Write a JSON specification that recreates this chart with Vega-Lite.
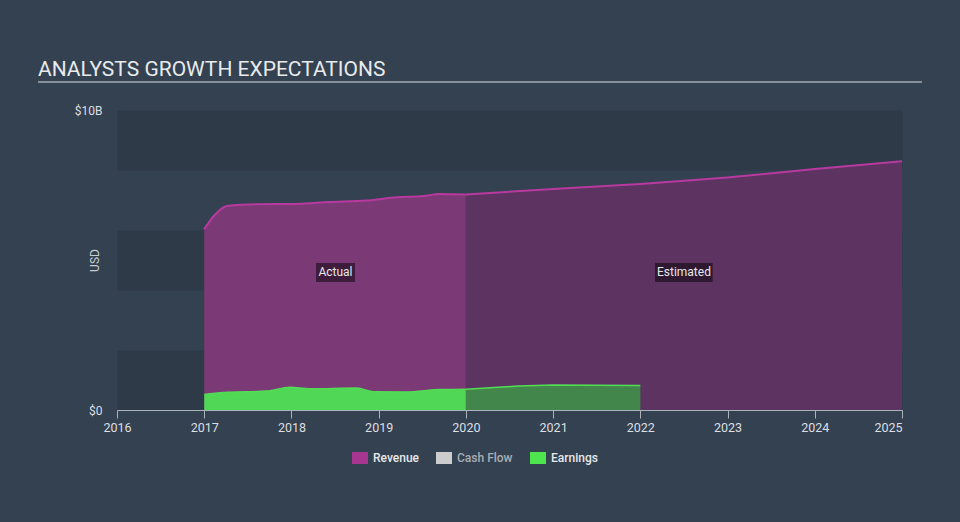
{
  "$schema": "https://vega.github.io/schema/vega-lite/v6.json",
  "width": 785,
  "height": 300,
  "autosize": {"type": "none"},
  "padding": {"left": 117, "top": 110, "right": 58, "bottom": 112},
  "background": "#344150",
  "title": {
    "text": "ANALYSTS GROWTH EXPECTATIONS",
    "anchor": "start",
    "frame": "group",
    "dx": -79,
    "offset": 1,
    "fontSize": 21,
    "font": "Roboto",
    "fontWeight": "normal",
    "color": "#e8eaec"
  },
  "config": {
    "font": "Roboto",
    "view": {"stroke": null},
    "legend": {
      "orient": "none",
      "legendX": 237,
      "legendY": 342,
      "direction": "horizontal",
      "title": null,
      "columnPadding": 17,
      "labelOffset": 7,
      "labelFontSize": 12,
      "labelFont": "Roboto",
      "labelFontWeight": 500,
      "symbolType": "M-1.33,-1H1.33V1H-1.33Z",
      "symbolSize": 144,
      "symbolStrokeWidth": 0,
      "symbolOpacity": 1
    }
  },
  "layer": [
    {
      "data": {
        "values": [
          {"series": "Revenue", "phase": "Actual", "year": 2017.00, "value": 6.03},
          {"series": "Revenue", "phase": "Actual", "year": 2017.12, "value": 6.50},
          {"series": "Revenue", "phase": "Actual", "year": 2017.26, "value": 6.80},
          {"series": "Revenue", "phase": "Actual", "year": 2017.60, "value": 6.86},
          {"series": "Revenue", "phase": "Actual", "year": 2018.06, "value": 6.87},
          {"series": "Revenue", "phase": "Actual", "year": 2018.44, "value": 6.93},
          {"series": "Revenue", "phase": "Actual", "year": 2018.86, "value": 6.98},
          {"series": "Revenue", "phase": "Actual", "year": 2019.21, "value": 7.09},
          {"series": "Revenue", "phase": "Actual", "year": 2019.51, "value": 7.13},
          {"series": "Revenue", "phase": "Actual", "year": 2019.70, "value": 7.20},
          {"series": "Revenue", "phase": "Actual", "year": 2020.00, "value": 7.18},
          {"series": "Revenue", "phase": "Estimated", "year": 2020.00, "value": 7.18},
          {"series": "Revenue", "phase": "Estimated", "year": 2021.00, "value": 7.37},
          {"series": "Revenue", "phase": "Estimated", "year": 2022.00, "value": 7.53},
          {"series": "Revenue", "phase": "Estimated", "year": 2023.00, "value": 7.75},
          {"series": "Revenue", "phase": "Estimated", "year": 2024.00, "value": 8.03},
          {"series": "Revenue", "phase": "Estimated", "year": 2025.00, "value": 8.29},
          {"series": "Earnings", "phase": "Actual", "year": 2017.00, "value": 0.52},
          {"series": "Earnings", "phase": "Actual", "year": 2017.22, "value": 0.58},
          {"series": "Earnings", "phase": "Actual", "year": 2017.72, "value": 0.63},
          {"series": "Earnings", "phase": "Actual", "year": 2017.98, "value": 0.76},
          {"series": "Earnings", "phase": "Actual", "year": 2018.21, "value": 0.71},
          {"series": "Earnings", "phase": "Actual", "year": 2018.75, "value": 0.73},
          {"series": "Earnings", "phase": "Actual", "year": 2018.94, "value": 0.61},
          {"series": "Earnings", "phase": "Actual", "year": 2019.32, "value": 0.60},
          {"series": "Earnings", "phase": "Actual", "year": 2019.70, "value": 0.68},
          {"series": "Earnings", "phase": "Actual", "year": 2020.00, "value": 0.69},
          {"series": "Earnings", "phase": "Estimated", "year": 2020.00, "value": 0.69},
          {"series": "Earnings", "phase": "Estimated", "year": 2020.60, "value": 0.80},
          {"series": "Earnings", "phase": "Estimated", "year": 2021.00, "value": 0.83},
          {"series": "Earnings", "phase": "Estimated", "year": 2022.00, "value": 0.82}
        ]
      },
      "encoding": {
        "x": {
          "field": "year",
          "type": "quantitative",
          "scale": {"domain": [2016, 2025], "nice": false, "zero": false},
          "axis": {
            "title": null,
            "values": [2016, 2017, 2018, 2019, 2020, 2021, 2022, 2023, 2024, 2025],
            "format": "d",
            "grid": false,
            "labelFlush": false,
            "labelAlign": {"condition": {"test": "datum.value == 2025", "value": "right"}, "value": "center"},
            "labelFontSize": 12.5,
            "labelColor": "#dcdfe3",
            "tickColor": "#aab2bc",
            "domainColor": "#aab2bc",
            "tickSize": 8,
            "labelPadding": 3,
            "zindex": 1
          }
        },
        "y": {
          "field": "value",
          "type": "quantitative",
          "scale": {"domain": [0, 10], "nice": false},
          "axis": {
            "title": "USD",
            "titleColor": "#c8ccd0",
            "titleFontSize": 12,
            "titleFontWeight": "normal",
            "titleX": -16,
            "titleY": 150,
            "values": [0, 1, 5, 9, 10],
            "labelExpr": "datum.value == 0 ? '$0' : (datum.value == 10 ? '$10B' : '')",
            "labelFontSize": 12,
            "labelColor": "#dcdfe3",
            "labelPadding": 15,
            "domain": false,
            "ticks": false,
            "grid": true,
            "gridWidth": 60,
            "gridOpacity": 1,
            "gridColor": {"condition": {"test": "datum.value == 0 || datum.value == 10", "value": "transparent"}, "value": "#2e3a48"}
          }
        }
      },
      "layer": [
        {
          "transform": [{"filter": "datum.series == 'Revenue' && datum.phase == 'Actual'"}],
          "mark": {"type": "area", "opacity": 1, "interpolate": "monotone", "fill": "#7b3a76", "line": {"color": "#b8399f", "strokeWidth": 2, "opacity": 1, "interpolate": "monotone"}}
        },
        {
          "transform": [{"filter": "datum.series == 'Revenue' && datum.phase == 'Estimated'"}],
          "mark": {"type": "area", "opacity": 1, "fill": "#5c3361", "line": {"color": "#b8399f", "strokeWidth": 2, "opacity": 1}}
        },
        {
          "transform": [{"filter": "datum.series == 'Earnings' && datum.phase == 'Actual'"}],
          "mark": {"type": "area", "opacity": 1, "interpolate": "monotone", "fill": "#50d755", "line": {"color": "#52dd55", "strokeWidth": 1.5, "opacity": 1, "interpolate": "monotone"}}
        },
        {
          "transform": [{"filter": "datum.series == 'Earnings' && datum.phase == 'Estimated'"}],
          "mark": {"type": "area", "opacity": 1, "fill": "#43864c", "line": {"color": "#52dd55", "strokeWidth": 1.5, "opacity": 1}}
        },
        {
          "transform": [{"filter": "false"}],
          "mark": {"type": "point", "filled": true, "opacity": 1},
          "encoding": {
            "color": {
              "field": "series",
              "type": "nominal",
              "scale": {"domain": ["Revenue", "Cash Flow", "Earnings"], "range": ["#a8358f", "#cccccc", "#4ee44e"]},
              "legend": {
                "encode": {
                  "labels": {"update": {"fill": {"signal": "datum.label == 'Cash Flow' ? '#a9aeb4' : '#e6e8ea'"}}}
                }
              }
            }
          }
        }
      ]
    },
    {
      "data": {"values": [{"phase": "Actual"}]},
      "mark": {"type": "rect", "color": "#000000", "opacity": 0.5},
      "encoding": {
        "x": {"datum": 2018.282},
        "x2": {"datum": 2018.729},
        "y": {"datum": 4.9},
        "y2": {"datum": 4.267}
      }
    },
    {
      "data": {"values": [{"phase": "Estimated"}]},
      "mark": {"type": "rect", "color": "#000000", "opacity": 0.5},
      "encoding": {
        "x": {"datum": 2022.168},
        "x2": {"datum": 2022.829},
        "y": {"datum": 4.9},
        "y2": {"datum": 4.267}
      }
    },
    {
      "data": {"values": [{"phase": "Actual"}]},
      "mark": {"type": "text", "color": "#e6e8ea", "fontSize": 12, "align": "center", "baseline": "middle"},
      "encoding": {
        "x": {"datum": 2018.505},
        "y": {"datum": 4.6},
        "text": {"field": "phase"}
      }
    },
    {
      "data": {"values": [{"phase": "Estimated"}]},
      "mark": {"type": "text", "color": "#e6e8ea", "fontSize": 12, "align": "center", "baseline": "middle"},
      "encoding": {
        "x": {"datum": 2022.5},
        "y": {"datum": 4.6},
        "text": {"field": "phase"}
      }
    },
    {
      "data": {"values": [{"phase": "underline"}]},
      "mark": {"type": "rule", "color": "#a4acb5", "strokeWidth": 1.5},
      "encoding": {
        "x": {"datum": 2015.094},
        "x2": {"datum": 2025.229},
        "y": {"datum": 10.933}
      }
    }
  ]
}
